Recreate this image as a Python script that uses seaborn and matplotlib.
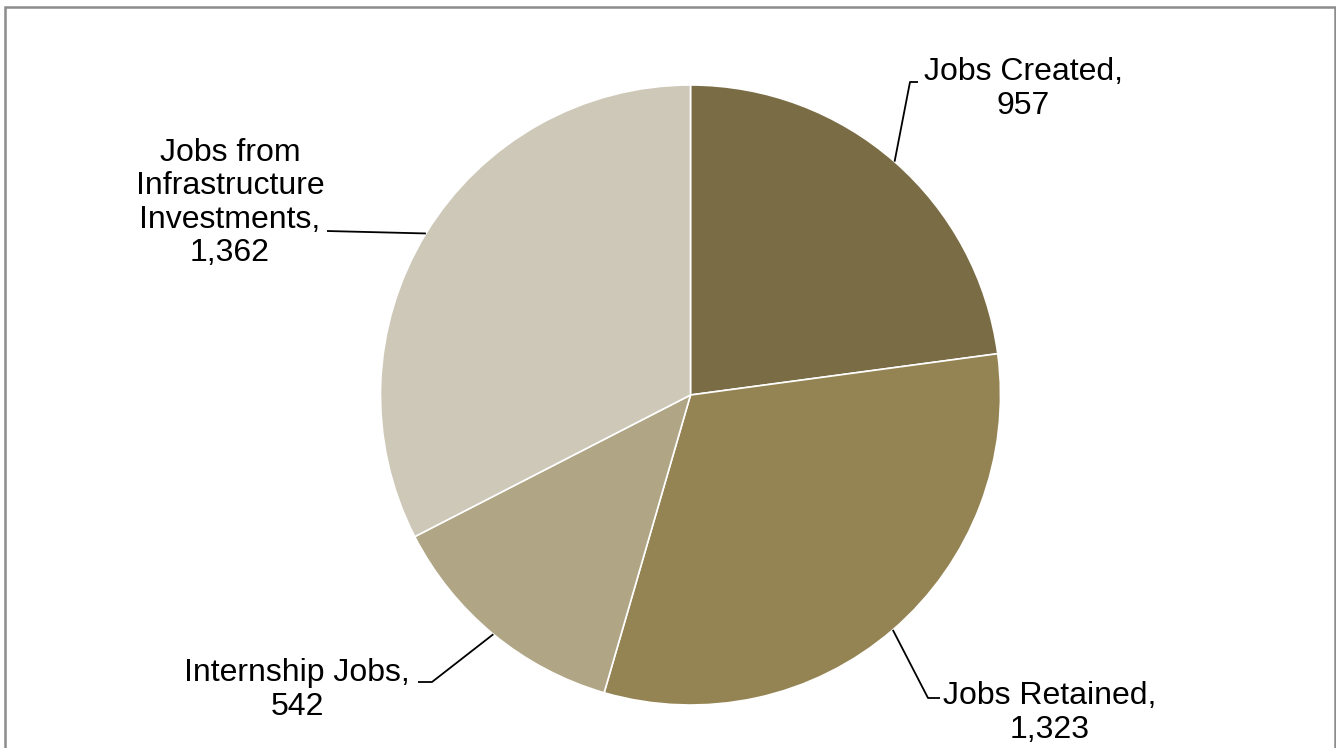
import numpy as np
import matplotlib
matplotlib.use("Agg")
import matplotlib.pyplot as plt
import seaborn as sns
from matplotlib.patches import Rectangle

categories = ["Jobs Created", "Jobs Retained", "Internship Jobs", "Jobs from\nInfrastructure\nInvestments"]
values = [957, 1323, 542, 1362]
colors = ["#7a6c45", "#958453", "#b0a585", "#cec8b8"]

sns.set_theme(style="white")
plt.rcParams['font.family'] = ['Liberation Sans', 'DejaVu Sans']

W, H = 1336, 748
fig = plt.figure(figsize=(W / 100, H / 100), dpi=100)
ax = fig.add_axes([0, 0, 1, 1])

cx, cy, r = 690.5, H - 395, 310
wedges, _ = ax.pie(values, colors=colors, startangle=90, counterclock=False,
                   center=(cx, cy), radius=r,
                   wedgeprops=dict(linewidth=1.2, edgecolor="white"))
ax.set_xlim(0, W)
ax.set_ylim(0, H)
ax.set_aspect('equal')
ax.axis('off')

# label layout: (elbow point, end of horizontal, text position)
layout = [
    ((910, H - 82), (918, H - 82), (1023, H - 89)),
    ((928, H - 698), (940, H - 698), (1050, H - 713)),
    ((432, H - 682), (418, H - 682), (297, H - 690)),
    ((327, H - 231), (327, H - 231), (230, H - 203)),
]

for w, cat, val, (elbow, end, tpos) in zip(wedges, categories, values, layout):
    mid = np.deg2rad((w.theta1 + w.theta2) / 2)
    sx, sy = cx + r * np.cos(mid), cy + r * np.sin(mid)
    ax.plot([sx, elbow[0], end[0]], [sy, elbow[1], end[1]], color="black", lw=1.3,
            solid_capstyle='butt')
    ax.text(tpos[0], tpos[1], f"{cat},\n{val:,}", ha='center', va='center', fontsize=23,
            color="black", linespacing=1.15)

fig.patches.append(Rectangle((4.5 / W, -0.05), (1335 - 4.5) / W, (H - 7.5) / H + 0.05,
                             transform=fig.transFigure, fill=False,
                             edgecolor="#8c8c8c", linewidth=1.8))

fig.savefig("out.png", dpi=100, facecolor="white")
